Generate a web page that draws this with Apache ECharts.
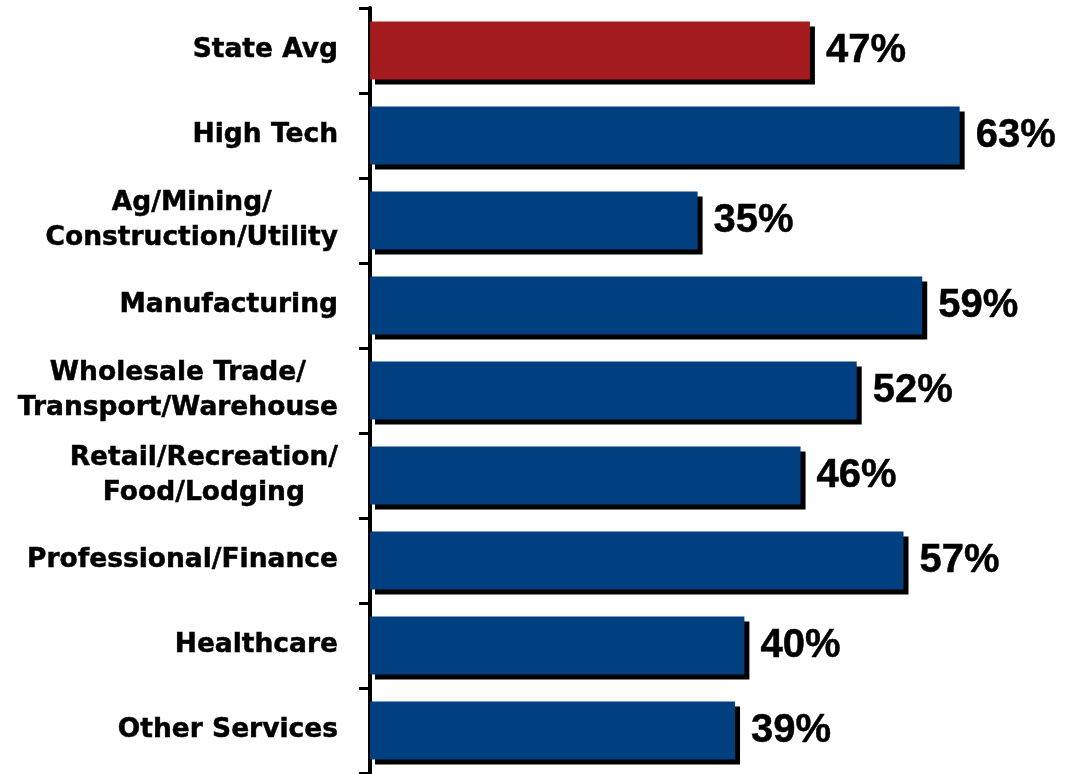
<!DOCTYPE html>
<html>
<head>
<meta charset="utf-8">
<script src="https://cdn.jsdelivr.net/npm/echarts@6/dist/echarts.min.js"></script>
<style>
  html, body { margin: 0; padding: 0; background: #fff; }
  #chart { width: 1072px; height: 774px; }
</style>
</head>
<body>
<div id="chart"></div>
<script>
const categories = [
  'State Avg',
  'High Tech',
  'Ag/Mining/\nConstruction/Utility',
  'Manufacturing',
  'Wholesale Trade/\nTransport/Warehouse',
  'Retail/Recreation/\nFood/Lodging',
  'Professional/Finance',
  'Healthcare',
  'Other Services'
];
const shares = [47, 63, 35, 59, 52, 46, 57, 40, 39];

const RED = '#a31b1f';
const BLUE = '#003f80';

const myChart = echarts.init(document.getElementById('chart'));

const option = {
  animation: false,
  grid: { left: 370, right: 0, top: 8, bottom: 1, containLabel: false },
  xAxis: {
    type: 'value',
    min: 0,
    max: 75,
    show: false
  },
  yAxis: {
    type: 'category',
    inverse: true,
    data: categories,
    axisLine: { show: true, lineStyle: { color: '#000', width: 4 } },
    axisTick: { show: true, length: 11, lineStyle: { color: '#000', width: 3 } },
    axisLabel: {
      align: 'right',
      margin: 32,
      // each line centred inside the right-aligned block
      formatter: (v) => v.split('\n').map((s) => '{c|' + s + '}').join('\n'),
      rich: {
        c: {
          align: 'center',
          color: '#000',
          fontFamily: 'DejaVu Sans',
          fontWeight: 'bold',
          fontSize: 26.5,
          lineHeight: 35,
          textBorderColor: '#000',
          textBorderWidth: 0.5
        }
      }
    }
  },
  series: [
    {
      type: 'bar',
      data: shares.map((v, i) => ({
        value: v,
        itemStyle: { color: i === 0 ? RED : BLUE }
      })),
      barCategoryGap: '32%',
      itemStyle: {
        shadowColor: '#000',
        shadowOffsetX: 5,
        shadowOffsetY: 5,
        shadowBlur: 0
      },
      label: {
        show: true,
        position: 'right',
        distance: 16,
        formatter: '{c}%',
        color: '#000',
        fontFamily: 'Liberation Sans',
        fontWeight: 'bold',
        fontSize: 40,
        textBorderColor: '#000',
        textBorderWidth: 0.5
      }
    }
  ]
};

myChart.setOption(option);
</script>
</body>
</html>
